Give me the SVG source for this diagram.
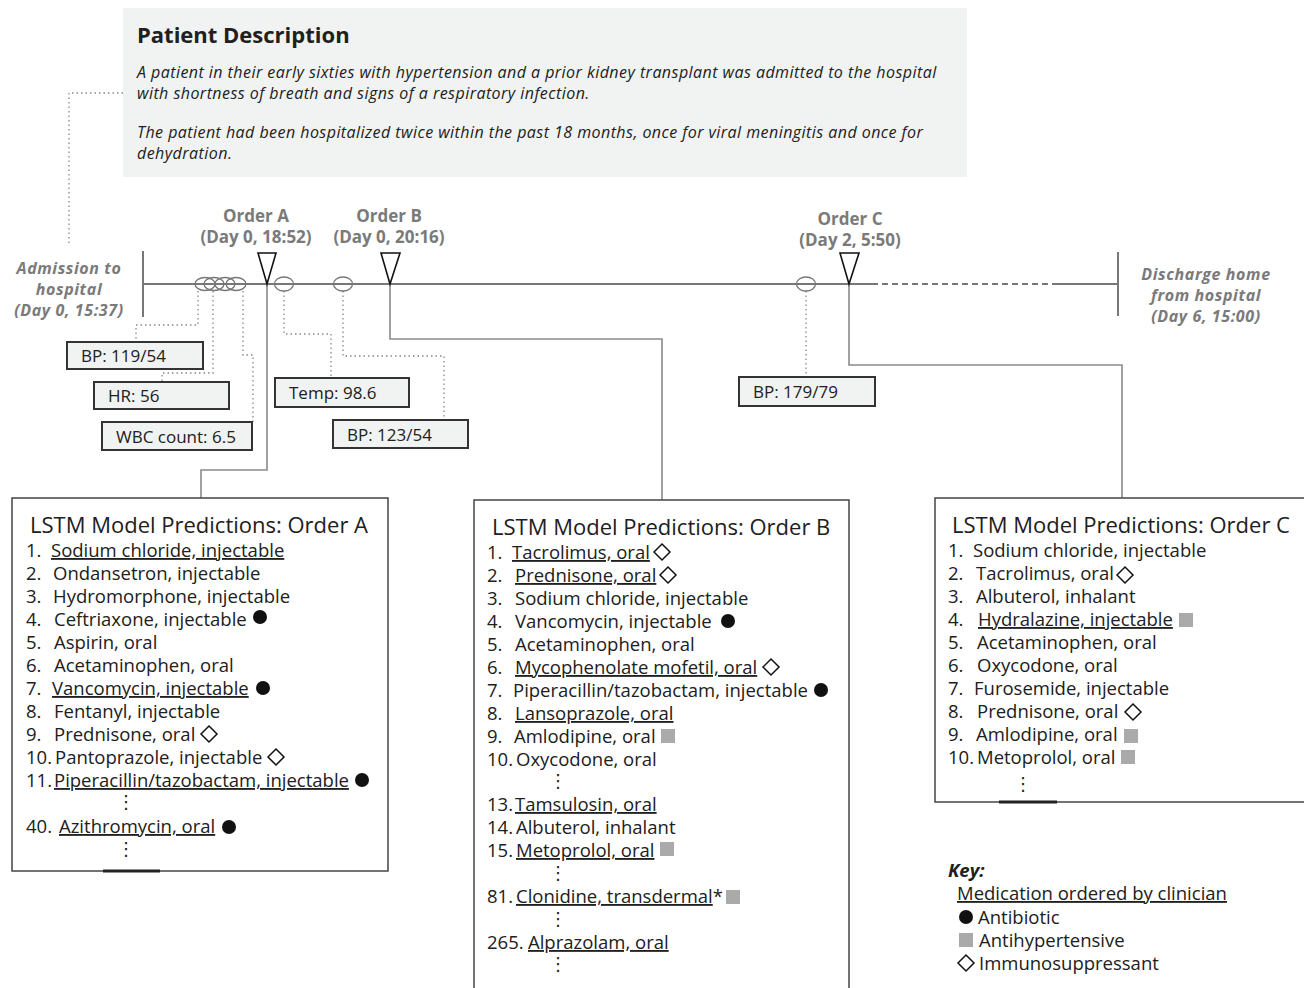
<svg xmlns="http://www.w3.org/2000/svg" width="1304" height="988" viewBox="0 0 1304 988">
<style>
text{font-family:"Open Sans","Liberation Sans",sans-serif;fill:#202020}
.desc{font-size:16px;letter-spacing:0.45px;font-style:italic}
.ttl{font-size:22px;font-weight:bold}
.ord{font-size:17px;font-weight:bold;fill:#7a7a7a;text-anchor:middle}
.evt{font-size:16px;letter-spacing:0.6px;font-weight:bold;font-style:italic;fill:#7a7a7a;text-anchor:middle}
.vbox{fill:#f1f3f2;stroke:#333;stroke-width:2}
.vt{font-size:17px}
.pbox{fill:#fff;stroke:#444;stroke-width:1.5}
.ph{font-size:22px}
.it{font-size:18.5px}
.u{text-decoration:underline}
.dot{stroke:#888;stroke-width:1.3;stroke-dasharray:1.5 3;fill:none}
.con{stroke:#8a8a8a;stroke-width:1.6;fill:none}
.tl{stroke:#777;stroke-width:2;fill:none}
.tri{fill:#fff;stroke:#111;stroke-width:1.6}
.ell{fill:none;stroke:#777;stroke-width:1.3}
.ab{fill:#111}
.ah{fill:#aaa}
.im{fill:none;stroke:#111;stroke-width:1.5}
.vd{font-family:"DejaVu Sans",sans-serif;font-size:18px;text-anchor:middle}
</style>
<defs>
<circle id="abx" r="7" class="ab"/>
<rect id="ahx" x="-7" y="-7" width="14" height="14" class="ah"/>
<path id="imx" d="M0,-8 L8,0 L0,8 L-8,0 Z" class="im"/>
</defs>

<g id="patient-description">
<rect x="123" y="8" width="844" height="169" fill="#f1f3f2"/>
<text x="137" y="43" class="ttl">Patient Description</text>
<text x="137" y="78" class="desc">A patient in their early sixties with hypertension and a prior kidney transplant was admitted to the hospital</text>
<text x="137" y="99" class="desc">with shortness of breath and signs of a respiratory infection.</text>
<text x="137" y="138" class="desc">The patient had been hospitalized twice within the past 18 months, once for viral meningitis and once for</text>
<text x="137" y="159" class="desc">dehydration.</text>
</g>

<g id="connectors">
<path class="dot" d="M123,93 H69 V246"/>
<path class="tl" d="M143,284 H872"/>
<path class="tl" d="M872,284 H1052" stroke-dasharray="6 4" stroke-width="1.5"/>
<path class="tl" d="M1052,284 H1118"/>
<path class="tl" d="M143,251 V317"/>
<path class="tl" d="M1118,252 V316"/>
<path class="dot" d="M198,291 V325 H136 V342"/>
<path class="dot" d="M213,291 V373 H162 V382"/>
<path class="dot" d="M243,291 V355 H253 V422"/>
<path class="dot" d="M284,291 V334 H331 V378"/>
<path class="dot" d="M343,291 V356 H444 V420"/>
<path class="dot" d="M806,291 V377"/>
<path class="con" d="M267,284 V470 H201 V498"/>
<path class="con" d="M390,284 V339 H662 V500"/>
<path class="con" d="M849,284 V365 H1122 V498"/>
</g>

<g id="admission">
<text x="69" y="274" class="evt">Admission to</text>
<text x="69" y="295" class="evt">hospital</text>
<text x="69" y="316" class="evt">(Day 0, 15:37)</text>
</g>
<g id="discharge">
<text x="1206" y="280" class="evt">Discharge home</text>
<text x="1206" y="301" class="evt">from hospital</text>
<text x="1206" y="322" class="evt">(Day 6, 15:00)</text>
</g>

<g id="vital-markers">
<ellipse cx="205" cy="284" rx="10" ry="6.5" class="ell"/>
<ellipse cx="214" cy="284" rx="10" ry="6.5" class="ell"/>
<ellipse cx="225" cy="284" rx="10" ry="6.5" class="ell"/>
<ellipse cx="236" cy="284" rx="10" ry="6.5" class="ell"/>
<ellipse cx="284" cy="284" rx="9.5" ry="7" class="ell"/>
<ellipse cx="343" cy="284" rx="9.5" ry="7" class="ell"/>
<ellipse cx="806" cy="284" rx="9.5" ry="7" class="ell"/>
</g>

<g id="order-a">
<text x="256" y="222" class="ord">Order A</text>
<text x="256" y="243" class="ord">(Day 0, 18:52)</text>
<path class="tri" d="M258,253 H276 L267,284 Z"/>
</g>
<g id="order-b">
<text x="389" y="222" class="ord">Order B</text>
<text x="389" y="243" class="ord">(Day 0, 20:16)</text>
<path class="tri" d="M381,253 H400 L390,284 Z"/>
</g>
<g id="order-c">
<text x="850" y="225" class="ord">Order C</text>
<text x="850" y="246" class="ord">(Day 2, 5:50)</text>
<path class="tri" d="M840,253 H859 L849,284 Z"/>
</g>

<g id="vital-bp1"><rect x="67" y="342" width="136" height="27" class="vbox"/><text x="81" y="362" class="vt">BP: 119/54</text></g>
<g id="vital-hr"><rect x="94" y="382" width="135" height="27" class="vbox"/><text x="108" y="402" class="vt">HR: 56</text></g>
<g id="vital-wbc"><rect x="102" y="422" width="150" height="28" class="vbox"/><text x="116" y="443" class="vt">WBC count: 6.5</text></g>
<g id="vital-temp"><rect x="275" y="378" width="134" height="29" class="vbox"/><text x="289" y="399" class="vt">Temp: 98.6</text></g>
<g id="vital-bp2"><rect x="333" y="420" width="135" height="28" class="vbox"/><text x="347" y="441" class="vt">BP: 123/54</text></g>
<g id="vital-bp3"><rect x="739" y="377" width="136" height="29" class="vbox"/><text x="753" y="398" class="vt">BP: 179/79</text></g>

<g id="predictions-a">
<rect x="12" y="498" width="376" height="373" class="pbox"/>
<path d="M103,871 H160" stroke="#222" stroke-width="3"/>
<text x="30" y="533" class="ph">LSTM Model Predictions: Order A</text>
<text x="26" y="557" class="it">1.</text><text x="51" y="557" class="it u">Sodium chloride, injectable</text>
<text x="26" y="580" class="it">2.</text><text x="53" y="580" class="it">Ondansetron, injectable</text>
<text x="26" y="603" class="it">3.</text><text x="53" y="603" class="it">Hydromorphone, injectable</text>
<text x="26" y="626" class="it">4.</text><text x="54" y="626" class="it">Ceftriaxone, injectable</text>
<text x="26" y="649" class="it">5.</text><text x="54" y="649" class="it">Aspirin, oral</text>
<text x="26" y="672" class="it">6.</text><text x="54" y="672" class="it">Acetaminophen, oral</text>
<text x="26" y="695" class="it">7.</text><text x="52" y="695" class="it u">Vancomycin, injectable</text>
<text x="26" y="718" class="it">8.</text><text x="54" y="718" class="it">Fentanyl, injectable</text>
<text x="26" y="741" class="it">9.</text><text x="54" y="741" class="it">Prednisone, oral</text>
<text x="26" y="764" class="it">10.</text><text x="55" y="764" class="it">Pantoprazole, injectable</text>
<text x="26" y="787" class="it">11.</text><text x="54" y="787" class="it u">Piperacillin/tazobactam, injectable</text>
<text x="126" y="808" class="vd">⋮</text>
<text x="26" y="833" class="it">40.</text><text x="59" y="833" class="it u">Azithromycin, oral</text>
<text x="126" y="855" class="vd">⋮</text>
<use href="#abx" x="260" y="617"/>
<use href="#abx" x="263" y="688"/>
<use href="#imx" x="209" y="734"/>
<use href="#imx" x="276" y="757"/>
<use href="#abx" x="362" y="780"/>
<use href="#abx" x="229" y="827"/>
</g>

<g id="predictions-b">
<rect x="474" y="500" width="375" height="500" class="pbox"/>
<text x="492" y="535" class="ph">LSTM Model Predictions: Order B</text>
<text x="487" y="559" class="it">1.</text><text x="512" y="559" class="it u">Tacrolimus, oral</text>
<text x="487" y="582" class="it">2.</text><text x="515" y="582" class="it u">Prednisone, oral</text>
<text x="487" y="605" class="it">3.</text><text x="515" y="605" class="it">Sodium chloride, injectable</text>
<text x="487" y="628" class="it">4.</text><text x="515" y="628" class="it">Vancomycin, injectable</text>
<text x="487" y="651" class="it">5.</text><text x="515" y="651" class="it">Acetaminophen, oral</text>
<text x="487" y="674" class="it">6.</text><text x="515" y="674" class="it u">Mycophenolate mofetil, oral</text>
<text x="487" y="697" class="it">7.</text><text x="513" y="697" class="it">Piperacillin/tazobactam, injectable</text>
<text x="487" y="720" class="it">8.</text><text x="515" y="720" class="it u">Lansoprazole, oral</text>
<text x="487" y="743" class="it">9.</text><text x="514" y="743" class="it">Amlodipine, oral</text>
<text x="487" y="766" class="it">10.</text><text x="516" y="766" class="it">Oxycodone, oral</text>
<text x="558" y="787" class="vd">⋮</text>
<text x="487" y="811" class="it">13.</text><text x="515" y="811" class="it u">Tamsulosin, oral</text>
<text x="487" y="834" class="it">14.</text><text x="516" y="834" class="it">Albuterol, inhalant</text>
<text x="487" y="857" class="it">15.</text><text x="516" y="857" class="it u">Metoprolol, oral</text>
<text x="558" y="879" class="vd">⋮</text>
<text x="487" y="903" class="it">81.</text><text x="516" y="903" class="it"><tspan class="u">Clonidine, transdermal</tspan>*</text>
<text x="558" y="925" class="vd">⋮</text>
<text x="487" y="949" class="it">265.</text><text x="528" y="949" class="it u">Alprazolam, oral</text>
<text x="558" y="970" class="vd">⋮</text>
<use href="#imx" x="662" y="552"/>
<use href="#imx" x="668" y="575"/>
<use href="#abx" x="728" y="621"/>
<use href="#imx" x="771" y="667"/>
<use href="#abx" x="821" y="690"/>
<use href="#ahx" x="668" y="736"/>
<use href="#ahx" x="667" y="849"/>
<use href="#ahx" x="733" y="897"/>
</g>

<g id="predictions-c">
<rect x="935" y="498" width="380" height="304" class="pbox"/>
<path d="M999,802 H1057" stroke="#222" stroke-width="3"/>
<text x="952" y="533" class="ph">LSTM Model Predictions: Order C</text>
<text x="948" y="557" class="it">1.</text><text x="973" y="557" class="it">Sodium chloride, injectable</text>
<text x="948" y="580" class="it">2.</text><text x="976" y="580" class="it">Tacrolimus, oral</text>
<text x="948" y="603" class="it">3.</text><text x="976" y="603" class="it">Albuterol, inhalant</text>
<text x="948" y="626" class="it">4.</text><text x="978" y="626" class="it u">Hydralazine, injectable</text>
<text x="948" y="649" class="it">5.</text><text x="977" y="649" class="it">Acetaminophen, oral</text>
<text x="948" y="672" class="it">6.</text><text x="977" y="672" class="it">Oxycodone, oral</text>
<text x="948" y="695" class="it">7.</text><text x="974" y="695" class="it">Furosemide, injectable</text>
<text x="948" y="718" class="it">8.</text><text x="977" y="718" class="it">Prednisone, oral</text>
<text x="948" y="741" class="it">9.</text><text x="976" y="741" class="it">Amlodipine, oral</text>
<text x="948" y="764" class="it">10.</text><text x="977" y="764" class="it">Metoprolol, oral</text>
<text x="1023" y="790" class="vd">⋮</text>
<use href="#imx" x="1125" y="575"/>
<use href="#ahx" x="1186" y="620"/>
<use href="#imx" x="1133" y="712"/>
<use href="#ahx" x="1131" y="736"/>
<use href="#ahx" x="1128" y="757"/>
</g>

<g id="key">
<text x="948" y="877" class="it" font-weight="bold" font-style="italic">Key:</text>
<text x="957" y="900" class="it u">Medication ordered by clinician</text>
<use href="#abx" x="966" y="917"/>
<text x="978" y="924" class="it">Antibiotic</text>
<use href="#ahx" x="966" y="940"/>
<text x="979" y="947" class="it">Antihypertensive</text>
<use href="#imx" x="966" y="963"/>
<text x="979" y="970" class="it">Immunosuppressant</text>
</g>
</svg>
